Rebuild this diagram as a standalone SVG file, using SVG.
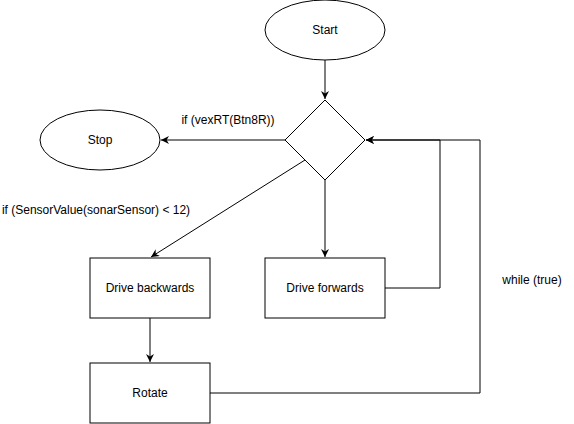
<svg xmlns="http://www.w3.org/2000/svg" width="574" height="424" viewBox="0 0 574 424">
<style>
.s{fill:#fff;stroke:#000;stroke-width:1}
.c{fill:none;stroke:#000;stroke-width:1}
text{font-family:"Liberation Sans",Arial,sans-serif;font-size:12px;fill:#000;text-anchor:middle;dominant-baseline:central}
</style>
<defs>
<marker id="a" viewBox="0 0 10 10" refX="10" refY="5" markerWidth="8" markerHeight="8" markerUnits="userSpaceOnUse" orient="auto">
<path d="M0,0 L10,5 L0,10 L3,5 Z" fill="#000"/>
</marker>
</defs>
<rect width="574" height="424" fill="#fff"/>
<g id="connectors">
<path class="c" d="M325,60 L325,99" marker-end="url(#a)"/>
<path class="c" d="M285,140 L161,140" marker-end="url(#a)"/>
<path class="c" d="M305,160 L151,257" marker-end="url(#a)"/>
<path class="c" d="M325,180 L325,257" marker-end="url(#a)"/>
<path class="c" d="M150,318 L150,362" marker-end="url(#a)"/>
<path class="c" d="M385,288 L440,288 L440,140 L366,140" marker-end="url(#a)"/>
<path class="c" d="M210,393 L480,393 L480,140 L366,140" marker-end="url(#a)"/>
<text x="228" y="120">if (vexRT(Btn8R))</text>
<text x="96" y="210">if (SensorValue(sonarSensor) &lt; 12)</text>
<text x="532" y="280">while (true)</text>
</g>
<g id="start"><ellipse class="s" cx="325" cy="30" rx="60" ry="30"/><text x="325" y="30">Start</text></g>
<g id="decision"><path class="s" d="M325,100 L365,140 L325,180 L285,140 Z"/></g>
<g id="stop"><ellipse class="s" cx="100" cy="140" rx="60" ry="30"/><text x="100" y="140">Stop</text></g>
<g id="backwards"><rect class="s" x="90" y="258" width="120" height="60"/><text x="150" y="288">Drive backwards</text></g>
<g id="forwards"><rect class="s" x="265" y="258" width="120" height="60"/><text x="325" y="288">Drive forwards</text></g>
<g id="rotate"><rect class="s" x="90" y="363" width="120" height="60"/><text x="150" y="393">Rotate</text></g>
</svg>
